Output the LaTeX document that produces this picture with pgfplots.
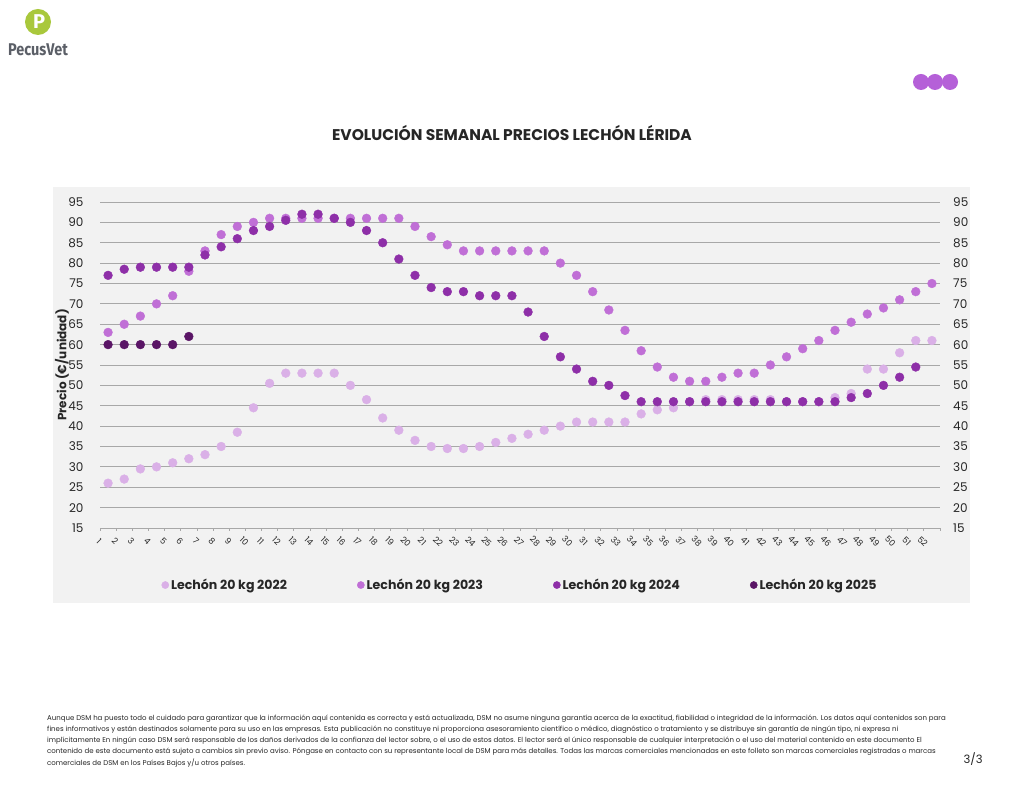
\documentclass[border=0pt]{standalone}
\usepackage{pgfplots}
\pgfplotsset{compat=1.18}
\usepackage{fontspec}
\setmainfont{Poppins}
\newfontfamily\logofont{Fira Sans}

\definecolor{cA}{HTML}{DAB0E7}
\definecolor{cB}{HTML}{C06FD6}
\definecolor{cC}{HTML}{8E2FA8}
\definecolor{cD}{HTML}{5A1566}
\definecolor{panel}{HTML}{F2F2F2}
\definecolor{gridgray}{HTML}{A8A8A8}
\definecolor{txt}{HTML}{262626}
\definecolor{logogreen}{HTML}{A9C83C}
\definecolor{logogray}{HTML}{5B5F67}
\definecolor{dotpurple}{HTML}{B560D8}

\begin{document}
\begin{tikzpicture}[x=1pt,y=1pt]
\useasboundingbox[fill=white] (0,0) rectangle (1024,791);
% logo
\fill[logogreen] (38,769) circle (13);
\node[white,font=\logofont\bfseries\fontsize{20}{20}\selectfont] at (39,769) {P};
\node[logogray,font=\logofont\bfseries\fontsize{17}{17}\selectfont,xscale=0.85] at (38,741) {PecusVet};
% dots top right
\fill[dotpurple] (921,709) circle (8);
\fill[dotpurple] (935,709) circle (8);
\fill[dotpurple] (950,709) circle (8);
% title
\node[txt,font=\bfseries\fontsize{15.5}{15.5}\selectfont] at (512,658) {EVOLUCIÓN SEMANAL PRECIOS LECHÓN LÉRIDA};
% panel
\fill[panel] (53,188) rectangle (970,604);
\node[txt,rotate=90,inner sep=0pt,font=\bfseries\fontsize{12}{12}\selectfont] at (62,426) {Precio (€/unidad)};

\begin{axis}[
  at={(100pt,263pt)}, anchor=south west,
  scale only axis, width=840pt, height=326pt,
  xmin=0.5, xmax=52.5, ymin=15, ymax=95,
  axis line style={draw=none},
  ytick={15,20,...,95}, ymajorgrids,
  grid style={gridgray, line width=0.9pt},
  ytick style={draw=none},
  xtick={1,...,52}, major x tick style={draw=none},
  minor xtick={0.5,1.5,...,52.5},
  minor x tick style={gridgray, line width=0.8pt},
  minor tick length=3pt, tick align=outside, tick pos=bottom,
  /pgf/number format/assume math mode=true,
  yticklabel style={font=\fontsize{12}{12}\selectfont, txt, anchor=east, inner sep=0pt, xshift=-12pt},
  xticklabel style={font=\fontsize{8.5}{8.5}\selectfont, txt, rotate=-45, anchor=center, inner sep=0pt, yshift=-13pt},
  legend style={at={(0.5,-0.175)}, anchor=center, draw=none, fill=none,
    font=\bfseries\fontsize{12.6}{14}\selectfont, text=txt,
    legend columns=4, /tikz/every even column/.append style={column sep=68pt}},
  legend image code/.code={\fill[#1] (0pt,0pt) circle (3.6pt);},
  every axis plot/.append style={only marks, mark=*, mark size=4.4pt},
]
\addplot[cA, mark options={fill=cA, draw=cA}] coordinates {
(1,26)(2,27)(3,29.5)(4,30)(5,31)(6,32)(7,33)(8,35)(9,38.5)(10,44.5)
(11,50.5)(12,53)(13,53)(14,53)(15,53)(16,50)(17,46.5)(18,42)(19,39)(20,36.5)
(21,35)(22,34.5)(23,34.5)(24,35)(25,36)(26,37)(27,38)(28,39)(29,40)(30,41)
(31,41)(32,41)(33,41)(34,43)(35,44)(36,44.5)(37,46)(38,46.5)(39,46.5)(40,46.5)
(41,46.5)(42,46.5)(43,46)(44,46)(45,46)(46,47)(47,48)(48,54)(49,54)(50,58)
(51,61)(52,61)};
\addlegendentry{Lechón 20 kg 2022}
\addplot[cB, mark options={fill=cB, draw=cB}] coordinates {
(1,63)(2,65)(3,67)(4,70)(5,72)(6,78)(7,83)(8,87)(9,89)(10,90)
(11,91)(12,91)(13,91)(14,91)(15,91)(16,91)(17,91)(18,91)(19,91)(20,89)
(21,86.5)(22,84.5)(23,83)(24,83)(25,83)(26,83)(27,83)(28,83)(29,80)(30,77)
(31,73)(32,68.5)(33,63.5)(34,58.5)(35,54.5)(36,52)(37,51)(38,51)(39,52)(40,53)
(41,53)(42,55)(43,57)(44,59)(45,61)(46,63.5)(47,65.5)(48,67.5)(49,69)(50,71)
(51,73)(52,75)};
\addlegendentry{Lechón 20 kg 2023}
\addplot[cC, mark options={fill=cC, draw=cC}] coordinates {
(1,77)(2,78.5)(3,79)(4,79)(5,79)(6,79)(7,82)(8,84)(9,86)(10,88)
(11,89)(12,90.5)(13,92)(14,92)(15,91)(16,90)(17,88)(18,85)(19,81)(20,77)
(21,74)(22,73)(23,73)(24,72)(25,72)(26,72)(27,68)(28,62)(29,57)(30,54)
(31,51)(32,50)(33,47.5)(34,46)(35,46)(36,46)(37,46)(38,46)(39,46)(40,46)
(41,46)(42,46)(43,46)(44,46)(45,46)(46,46)(47,47)(48,48)(49,50)(50,52)
(51,54.5)};
\addlegendentry{Lechón 20 kg 2024}
\addplot[cD, mark options={fill=cD, draw=cD}] coordinates {
(1,60)(2,60)(3,60)(4,60)(5,60)(6,62)};
\addlegendentry{Lechón 20 kg 2025}
\end{axis}

\begin{axis}[
  at={(100pt,263pt)}, anchor=south west,
  scale only axis, width=840pt, height=326pt,
  xmin=0.5, xmax=52.5, ymin=15, ymax=95,
  axis line style={draw=none}, hide x axis,
  ytick={15,20,...,95}, ytick style={draw=none},
  yticklabel pos=right,
  /pgf/number format/assume math mode=true,
  yticklabel style={font=\fontsize{12}{12}\selectfont, txt, anchor=west, inner sep=0pt, xshift=13pt},
]
\addplot[draw=none] coordinates {(1,15)};
\end{axis}

% footer
\begin{scope}[every node/.style={anchor=west, inner sep=0pt, txt, font=\fontsize{7}{7}\selectfont}]
\node at (47,72) {Aunque DSM ha puesto todo el cuidado para garantizar que la información aquí contenida es correcta y está actualizada, DSM no asume ninguna garantía acerca de la exactitud, fiabilidad o integridad de la información. Los datos aquí contenidos son para};
\node at (47,61) {fines informativos y están destinados solamente para su uso en las empresas. Esta publicación no constituye ni proporciona asesoramiento científico o médico, diagnóstico o tratamiento y se distribuye sin garantía de ningún tipo, ni expresa ni};
\node at (47,50) {implícitamente En ningún caso DSM será responsable de los daños derivados de la confianza del lector sobre, o el uso de estos datos. El lector será el único responsable de cualquier interpretación o el uso del material contenido en este documento El};
\node at (47,39) {contenido de este documento está sujeto a cambios sin previo aviso. Póngase en contacto con su representante local de DSM para más detalles. Todas las marcas comerciales mencionadas en este folleto son marcas comerciales registradas o marcas};
\node at (47,28) {comerciales de DSM en los Países Bajos y/u otros países.};
\end{scope}
\node[txt, font=\fontsize{11.5}{11.5}\selectfont] at (973,32) {3/3};
\end{tikzpicture}
\end{document}
